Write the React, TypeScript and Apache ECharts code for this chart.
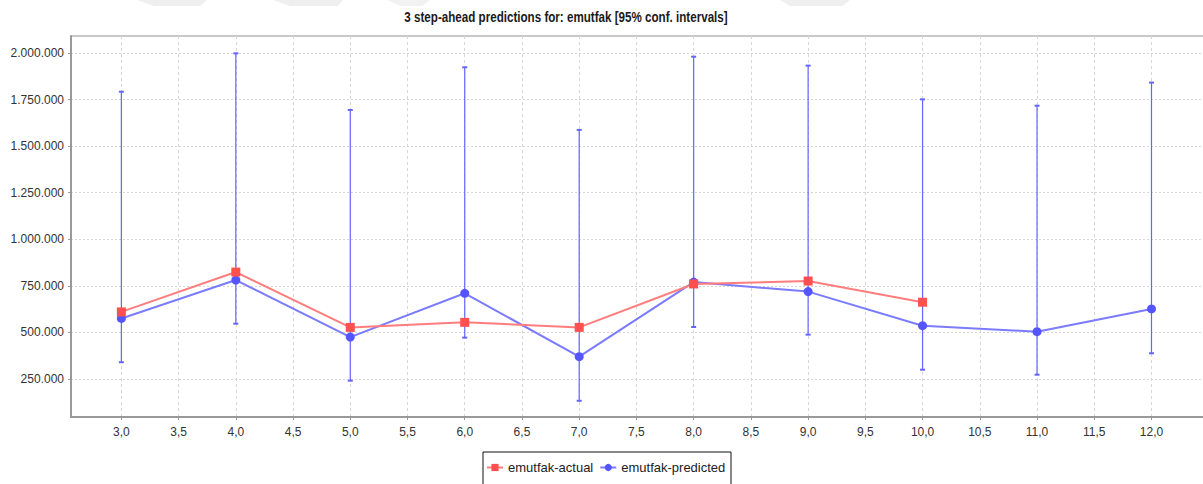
import React, { useEffect, useRef } from "react";
import * as echarts from "echarts";

const steps = [3, 4, 5, 6, 7, 8, 9, 10, 11, 12];
const actual = [610000, 824000, 527000, 554000, 527000, 760000, 776000, 662000];
const predicted = [575000, 781000, 475000, 710000, 370000, 770000, 719000, 536000, 504000, 626000];
const lower = [340000, 547000, 241000, 472000, 133000, 529000, 488000, 300000, 273000, 388000];
const upper = [1792000, 1998000, 1694000, 1923000, 1587000, 1980000, 1932000, 1751000, 1717000, 1841000];
const xTicks = [3, 3.5, 4, 4.5, 5, 5.5, 6, 6.5, 7, 7.5, 8, 8.5, 9, 9.5, 10, 10.5, 11, 11.5, 12];
const yTicks = [250000, 500000, 750000, 1000000, 1250000, 1500000, 1750000, 2000000];
const titleText = "3 step-ahead predictions for: emutfak [95% conf. intervals]";
const seriesNames = ["emutfak-actual", "emutfak-predicted"];

const NARROW = "'Liberation Sans Narrow', 'Arial Narrow', 'Liberation Sans', sans-serif";
const SANS = "'Liberation Sans', Arial, sans-serif";

function fmtY(v: number) {
  return String(Math.round(v)).replace(/\B(?=(\d{3})+(?!\d))/g, ".");
}
function fmtX(v: number) {
  return v.toFixed(1).replace(".", ",");
}

export default function App() {
  const ref = useRef<HTMLDivElement>(null);
  useEffect(() => {
    if (!ref.current) return;
    const chart = echarts.init(ref.current, null, { renderer: "svg" });
    const errData = steps.map((s, i) => [s, lower[i], upper[i]]);
    const actData = actual.map((v, i) => [steps[i], v]);
    const predData = predicted.map((v, i) => [steps[i], v]);
    const option: any = {
      animation: false,
      backgroundColor: "#ffffff",
      legend: {
        data: seriesNames,
        left: 486,
        top: 461,
        itemWidth: 16,
        itemHeight: 9,
        itemGap: 6,
        textStyle: { fontFamily: SANS, fontSize: 13, color: "#222" },
        padding: 0,
      },
      grid: { left: 71, right: 0, top: 36, bottom: 67 },
      xAxis: {
        type: "value",
        min: 2.56,
        max: 12.45,
        axisLine: { show: true, lineStyle: { color: "#999", width: 2 } },
        axisTick: { show: true, length: 3, customValues: xTicks, lineStyle: { color: "#999" } },
        axisLabel: {
          customValues: xTicks,
          formatter: fmtX,
          margin: 9,
          fontFamily: NARROW,
          fontSize: 12,
          color: "#333",
        },
        splitLine: {
          show: true,
          customValues: xTicks,
          lineStyle: { color: "#d6d6d6", type: [3, 3], width: 1 },
        },
      },
      yAxis: {
        type: "value",
        min: 46000,
        max: 2091000,
        axisLine: { show: true, lineStyle: { color: "#999", width: 2 } },
        axisTick: { show: true, length: 3, customValues: yTicks, lineStyle: { color: "#999" } },
        axisLabel: {
          customValues: yTicks,
          formatter: fmtY,
          margin: 7,
          fontFamily: NARROW,
          fontSize: 12,
          color: "#333",
        },
        splitLine: {
          show: true,
          customValues: yTicks,
          lineStyle: { color: "#d6d6d6", type: [2, 2], width: 1 },
        },
      },
      graphic: [
        { type: "polygon", silent: true, shape: { points: [[137, 0], [207, 0], [200, 6], [154, 6]] }, style: { fill: "#efefef" } },
        { type: "polygon", silent: true, shape: { points: [[273, 0], [343, 0], [338, 6], [290, 6]] }, style: { fill: "#efefef" } },
        { type: "polygon", silent: true, shape: { points: [[387, 0], [430, 0], [422, 6], [400, 6]] }, style: { fill: "#f2f2f2" } },
        { type: "polygon", silent: true, shape: { points: [[780, 0], [850, 0], [842, 6], [790, 6]] }, style: { fill: "#efefef" } },
        { type: "line", silent: true, shape: { x1: 71, y1: 36, x2: 1203, y2: 36 }, style: { stroke: "#c8c8c8", lineWidth: 2 } },
        { type: "rect", silent: true, shape: { x: 483, y: 452, width: 248, height: 45 }, style: { fill: "none", stroke: "#111", lineWidth: 1 } },
        {
          type: "text",
          silent: true,
          x: 566,
          y: 17,
          scaleX: 0.83,
          style: {
            text: titleText,
            x: 0,
            y: 0,
            textAlign: "center",
            textVerticalAlign: "middle",
            fontFamily: SANS,
            fontSize: 14,
            fontWeight: "bold",
            fill: "#1a1a1a",
          },
        },
      ],
      series: [
        {
          type: "custom",
          name: "ci",
          data: errData,
          encode: { x: 0, y: [1, 2] },
          z: 2,
          renderItem: (params: any, api: any) => {
            const x = api.value(0);
            const lo = api.coord([x, api.value(1)]);
            const hi = api.coord([x, api.value(2)]);
            const w = 2.5;
            const st = { stroke: "#6464ff", lineWidth: 1.2 };
            return {
              type: "group",
              children: [
                { type: "line", shape: { x1: lo[0], y1: lo[1], x2: hi[0], y2: hi[1] }, style: st },
                { type: "line", shape: { x1: hi[0] - w, y1: hi[1], x2: hi[0] + w, y2: hi[1] }, style: { stroke: "#6464ff", lineWidth: 2 } },
                { type: "line", shape: { x1: lo[0] - w, y1: lo[1], x2: lo[0] + w, y2: lo[1] }, style: { stroke: "#6464ff", lineWidth: 2 } },
              ],
            };
          },
        },
        {
          type: "line",
          name: seriesNames[1],
          data: predData,
          symbol: "circle",
          symbolSize: 9,
          z: 3,
          itemStyle: { color: "#5555ff" },
          lineStyle: { color: "#7b7bff", width: 2 },
        },
        {
          type: "line",
          name: seriesNames[0],
          data: actData,
          symbol: "rect",
          symbolSize: 9,
          z: 4,
          itemStyle: { color: "#ff4f4f" },
          lineStyle: { color: "#ff7d7d", width: 2 },
        },
      ],
    };
    chart.setOption(option);
    return () => chart.dispose();
  }, []);
  return (
    <div
      ref={ref}
      style={{ position: "fixed", left: 0, top: 0, width: 1203, height: 484, background: "#fff" }}
    />
  );
}
